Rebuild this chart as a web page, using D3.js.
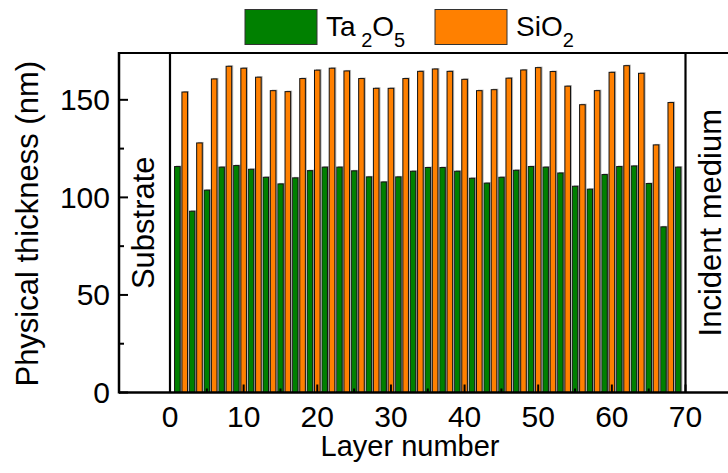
<!DOCTYPE html>
<html>
<head>
<meta charset="utf-8">
<script src="https://cdn.jsdelivr.net/npm/d3@7"></script>
<style>
  html, body { margin: 0; padding: 0; background: #fff; }
  svg { display: block; font-family: "Liberation Sans", Arial, sans-serif; }
</style>
</head>
<body>
<svg id="chart" width="728" height="473"></svg>
<script>
// Layer numbers 1..69: odd layers are Ta2O5, even layers are SiO2
const ta2o5Layers = [1,3,5,7,9,11,13,15,17,19,21,23,25,27,29,31,33,35,37,39,41,43,45,47,49,51,53,55,57,59,61,63,65,67,69];
const ta2o5Thickness = [115.8,92.9,103.7,115.5,116.3,114.4,110.3,106.9,110.0,113.7,115.5,115.5,113.6,110.5,107.9,110.5,113.4,115.3,115.3,113.4,109.8,107.3,110.3,113.9,115.8,115.5,112.5,105.7,104.2,111.7,115.8,116.1,107.1,84.9,115.5];
const sio2Layers = [2,4,6,8,10,12,14,16,18,20,22,24,26,28,30,32,34,36,38,40,42,44,46,48,50,52,54,56,58,60,62,64,66,68];
const sio2Thickness = [154.0,127.9,160.7,167.2,166.2,161.6,154.7,154.2,160.9,165.2,166.2,164.8,160.9,155.9,155.9,160.9,164.6,165.8,164.6,160.5,154.7,155.2,161.1,165.3,166.5,164.5,157.0,147.5,154.7,164.1,167.5,163.6,126.9,148.6];
const xTicks = [0,5,10,15,20,25,30,35,40,45,50,55,60,65,70];
const xTickLabels = [0,10,20,30,40,50,60,70];
const yTicks = [0,25,50,75,100,125,150];
const yTickLabels = [0,50,100,150];
const colors = { Ta2O5: "#008000", SiO2: "#ff8000" };

const svg = d3.select("#chart");
const W = 728;
const plotLeft = 119, plotTop = 53, plotBottom = 392.5;

const x = d3.scaleLinear().domain([0, 70]).range([170, 685.5]);
const y = d3.scaleLinear().domain([0, 174]).range([plotBottom, plotTop]);
const barW = (x(1) - x(0)) * 0.76;

function drawBars(layers, values, color) {
  const g = svg.append("g");
  const data = layers.map((l, i) => ({ l, v: values[i] }));
  // soft grey shadow behind each bar
  g.selectAll("rect.sh").data(data).join("rect")
    .attr("class", "sh")
    .attr("x", d => x(d.l) - barW / 2 + 1.5)
    .attr("y", d => y(d.v) - 1)
    .attr("width", barW)
    .attr("height", d => plotBottom - y(d.v))
    .attr("fill", "#b4b4b4");
  g.selectAll("rect.bar").data(data).join("rect")
    .attr("class", "bar")
    .attr("x", d => x(d.l) - barW / 2)
    .attr("y", d => y(d.v))
    .attr("width", barW)
    .attr("height", d => plotBottom - y(d.v))
    .attr("fill", color)
    .attr("stroke", "#111")
    .attr("stroke-width", 1);
}
drawBars(ta2o5Layers, ta2o5Thickness, colors.Ta2O5);
drawBars(sio2Layers, sio2Thickness, colors.SiO2);

// x ticks (inward)
svg.append("g").selectAll("line").data(xTicks).join("line")
  .attr("x1", d => x(d)).attr("x2", d => x(d))
  .attr("y1", plotBottom).attr("y2", d => plotBottom - (d % 10 === 0 ? 8 : 4))
  .attr("stroke", "#000").attr("stroke-width", 2);

// y ticks (inward)
svg.append("g").selectAll("line").data(yTicks).join("line")
  .attr("x1", plotLeft).attr("x2", d => plotLeft + (d % 50 === 0 ? 9 : 5))
  .attr("y1", d => y(d)).attr("y2", d => y(d))
  .attr("stroke", "#000").attr("stroke-width", 2);

// frame lines
svg.append("line").attr("x1", plotLeft).attr("x2", W).attr("y1", plotTop).attr("y2", plotTop)
  .attr("stroke", "#000").attr("stroke-width", 2);
svg.append("line").attr("x1", plotLeft).attr("x2", W).attr("y1", plotBottom).attr("y2", plotBottom)
  .attr("stroke", "#000").attr("stroke-width", 2.5);
svg.append("line").attr("x1", plotLeft).attr("x2", plotLeft).attr("y1", plotTop - 1).attr("y2", plotBottom + 1)
  .attr("stroke", "#000").attr("stroke-width", 2.5);
// substrate / incident medium boundaries
[0, 70].forEach(v => {
  svg.append("line").attr("x1", x(v)).attr("x2", x(v)).attr("y1", plotTop).attr("y2", plotBottom)
    .attr("stroke", "#000").attr("stroke-width", 2.2);
});

const fs = 30;
// tick labels
svg.append("g").selectAll("text").data(xTickLabels).join("text")
  .attr("x", d => x(d)).attr("y", 426.5)
  .attr("text-anchor", "middle").attr("font-size", fs).text(d => d);
svg.append("g").selectAll("text").data(yTickLabels).join("text")
  .attr("x", 110).attr("y", d => y(d) + 10.5)
  .attr("text-anchor", "end").attr("font-size", fs).text(d => d);

// axis titles
const midY = (plotTop + plotBottom) / 2;
svg.append("text").attr("x", 410).attr("y", 456).attr("text-anchor", "middle")
  .attr("font-size", 29).text("Layer number");
svg.append("text").attr("transform", `translate(38,${midY + 1}) rotate(-90)`)
  .attr("text-anchor", "middle").attr("font-size", 31).text("Physical thickness (nm)");
svg.append("text").attr("transform", `translate(154,${midY}) rotate(-90)`)
  .attr("text-anchor", "middle").attr("font-size", 31).text("Substrate");
svg.append("text").attr("transform", `translate(721,${midY}) rotate(-90)`)
  .attr("text-anchor", "middle").attr("font-size", 31).text("Incident medium");

// legend
const legend = [
  { key: "Ta2O5", bx: 245, parts: [["Ta", 0], ["\u00a02", 1], ["O", 0], ["5", 1]] },
  { key: "SiO2", bx: 435, parts: [["SiO", 0], ["2", 1]] }
];
legend.forEach(item => {
  svg.append("rect").attr("x", item.bx).attr("y", 9.5).attr("width", 72).attr("height", 35)
    .attr("fill", colors[item.key]).attr("stroke", "#333").attr("stroke-width", 1);
  const t = svg.append("text").attr("x", item.bx + 81).attr("y", 35.5).attr("font-size", 28);
  let sub = 0;
  item.parts.forEach(([s, isSub]) => {
    const dy = isSub && !sub ? 11 : (!isSub && sub ? -11 : 0);
    sub = isSub;
    t.append("tspan").attr("dy", dy).attr("font-size", isSub ? 20 : 28).text(s);
  });
});
</script>
</body>
</html>
